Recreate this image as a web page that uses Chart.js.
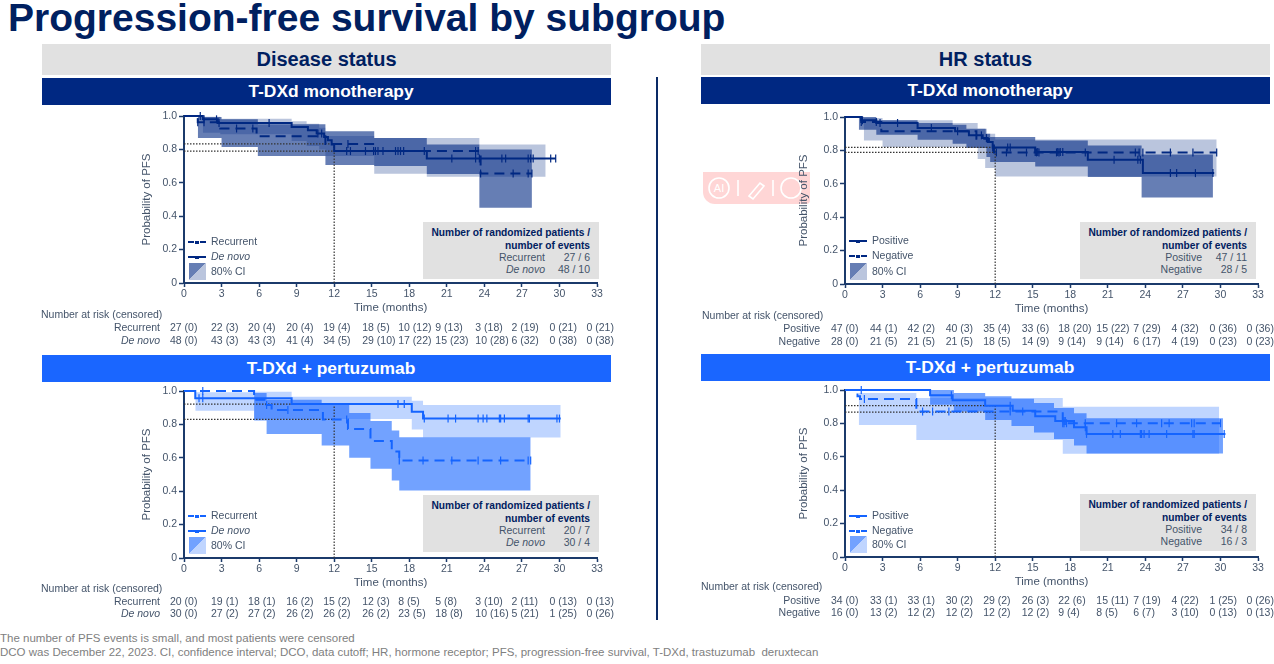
<!DOCTYPE html>
<html>
<head>
<meta charset="utf-8">
<title>Progression-free survival by subgroup</title>
<script src="https://cdn.jsdelivr.net/npm/chart.js@4"></script>
<style>
html, body { margin: 0; padding: 0; background: #fff; }
body { position: relative; width: 1274px; height: 664px; overflow: hidden; font-family: "Liberation Sans", Arial, sans-serif; }
h1 { position: absolute; left: 8px; top: -4px; margin: 0; font-size: 39px; line-height: 44px; font-weight: bold; color: #002060; white-space: nowrap; }
.head { position: absolute; width: 569px; text-align: center; font-weight: bold; }
.grey { height: 31px; line-height: 31px; font-size: 20px; background: #e1e1e1; color: #002060; }
.bar { height: 27px; line-height: 27px; font-size: 17.4px; color: #fff; text-indent: 9px; }
.navy { background: #002882; }
.blue { background: #1a66ff; }
.sep { position: absolute; left: 656px; top: 77px; width: 1.5px; height: 543px; background: #0a2a66; }
canvas { position: absolute; }
.stat { position: absolute; width: 176px; height: 57px; background: #e1e1e1; font-size: 10.5px; color: #44546a; }
.stat b { position: absolute; right: 9px; top: 5px; font-size: 10.2px; text-align: right; line-height: 12.5px; color: #002060; white-space: nowrap; }
.stat span { position: absolute; white-space: nowrap; }
.leg { position: absolute; font-size: 10.5px; color: #44546a; white-space: nowrap; line-height: 12px; }
.sample { position: absolute; width: 18px; height: 0; }
.mark { position: absolute; left: 7px; top: -2.5px; width: 4px; height: 3px; }
.swatch { position: absolute; width: 17px; height: 17px; }
.risk { position: absolute; font-size: 10.5px; line-height: 12px; color: #44546a; white-space: nowrap; }
.foot { position: absolute; left: 0; font-size: 11.5px; line-height: 13px; color: #808080; white-space: nowrap; }
.ai { position: absolute; left: 703px; top: 172px; width: 107px; height: 32px; background: #ffd6d6; border-radius: 0 0 4px 12px; }
</style>
</head>
<body>
<h1>Progression-free survival by subgroup</h1>

<div class="head grey" style="left:42px;top:44px">Disease status</div>
<div class="head bar navy" style="left:42px;top:78px">T-DXd monotherapy</div>
<div class="head bar blue" style="left:42px;top:355px">T-DXd + pertuzumab</div>
<div class="head grey" style="left:701px;top:44px">HR status</div>
<div class="head bar navy" style="left:701px;top:77px">T-DXd monotherapy</div>
<div class="head bar blue" style="left:701px;top:354px">T-DXd + pertuzumab</div>
<div class="sep"></div>

<div class="ai">
  <svg width="107" height="32" viewBox="0 0 107 32" fill="none" stroke="#fff" stroke-width="1.6">
    <circle cx="16" cy="16" r="10"/>
    <text x="16" y="20" text-anchor="middle" font-size="11" fill="#fff" stroke="none" font-family="Liberation Sans">AI</text>
    <line x1="35" y1="8" x2="35" y2="24"/>
    <path d="M46 24 L57 11 L61 14 L50 27 Z"/>
    <line x1="70" y1="8" x2="70" y2="24"/>
    <circle cx="88" cy="16" r="10"/>
  </svg>
</div>

<canvas id="chart-a" width="480" height="210" style="left:140px;top:105px"></canvas>
<canvas id="chart-b" width="480" height="210" style="left:140px;top:380px"></canvas>
<canvas id="chart-c" width="477" height="210" style="left:797px;top:106px"></canvas>
<canvas id="chart-d" width="477" height="210" style="left:797px;top:379px"></canvas>

<div class="foot" style="top:632px">The number of PFS events is small, and most patients were censored</div>
<div class="foot" style="top:646px">DCO was December 22, 2023. CI, confidence interval; DCO, data cutoff; HR, hormone receptor; PFS, progression-free survival, T-DXd, trastuzumab&nbsp; deruxtecan</div>

<script>
// axis ticks
const monthTicks = [0, 3, 6, 9, 12, 15, 18, 21, 24, 27, 30, 33];
const probTicks = [0, 0.2, 0.4, 0.6, 0.8, 1.0];

// Disease status, T-DXd monotherapy
const aDashTimes = [0, 1.1, 2.9, 5.8, 11.3, 15.2, 23.7, 27.8];
const aDashSurv = [1, 0.963, 0.925, 0.878, 0.833, 0.79, 0.655, 0.655];
const aDashCensor = [1.1, 1.6, 4.2, 5.5, 13.1, 23.3, 23.5, 23.7, 26.3, 27.5, 27.8];
const aDashBandTimes = [1.1, 3, 5.9, 11.3, 15.2, 19.4, 23.6, 27.8];
const aDashUpper = [0.994, 0.98, 0.95, 0.909, 0.869, 0.83, 0.8, 0.8];
const aDashLower = [0.869, 0.815, 0.76, 0.706, 0.7, 0.652, 0.451, 0.451];
const aSolidTimes = [0, 1.5, 2.7, 8.6, 9.9, 10.6, 11.2, 11.5, 11.8, 12, 19.4, 29.7];
const aSolidSurv = [1, 0.98, 0.958, 0.934, 0.915, 0.895, 0.875, 0.855, 0.83, 0.79, 0.745, 0.745];
const aSolidCensor = [1.3, 1.6, 2.6, 2.8, 6.8, 10.7, 11, 13, 13.3, 14.5, 15.15, 15.3, 15.5, 15.9, 16.9, 17.1, 17.3, 17.55, 19.2, 21.4, 23.3, 23.6, 25.4, 25.7, 27.5, 27.7, 27.9, 29.3, 29.7];
const aSolidBandTimes = [1.5, 2.9, 8.6, 9.8, 10.8, 11.3, 15.2, 19.4, 23.6, 28.9];
const aSolidUpper = [0.995, 0.984, 0.968, 0.954, 0.93, 0.88, 0.869, 0.869, 0.829, 0.829];
const aSolidLower = [0.9, 0.89, 0.85, 0.82, 0.8, 0.76, 0.654, 0.636, 0.636, 0.636];
const aRefs = [0.833, 0.79];
const aRiskDash = ['27 (0)', '22 (3)', '20 (4)', '20 (4)', '19 (4)', '18 (5)', '10 (12)', '9 (13)', '3 (18)', '2 (19)', '0 (21)', '0 (21)'];
const aRiskSolid = ['48 (0)', '43 (3)', '43 (3)', '41 (4)', '34 (5)', '29 (10)', '17 (22)', '15 (23)', '10 (28)', '6 (32)', '0 (38)', '0 (38)'];

// Disease status, T-DXd + pertuzumab
const bDashTimes = [0, 5.6, 6.6, 7, 11.1, 13.1, 14.9, 16.6, 17.2, 27.7];
const bDashSurv = [1, 0.948, 0.916, 0.886, 0.83, 0.773, 0.7, 0.637, 0.584, 0.584];
const bDashCensor = [1.5, 6.6, 8.3, 13, 17.2, 19.1, 21.4, 23.5, 25.3, 27.5, 27.7];
const bDashBandTimes = [5.6, 6.6, 11, 13.2, 14.9, 16.6, 17.2, 27.7];
const bDashUpper = [0.988, 0.948, 0.916, 0.868, 0.82, 0.763, 0.723, 0.723];
const bDashLower = [0.823, 0.743, 0.673, 0.6, 0.534, 0.464, 0.404, 0.404];
const bSolidTimes = [0, 0.9, 8.6, 18.2, 19.1, 30.1];
const bSolidSurv = [1, 0.956, 0.922, 0.876, 0.835, 0.835];
const bSolidCensor = [1.2, 1.5, 17.1, 17.6, 19.2, 21.1, 21.7, 23.5, 23.9, 24.2, 25.2, 25.3, 25.6, 27.5, 27.6, 29.8, 30];
const bSolidBandTimes = [0.9, 5.6, 8.6, 18.2, 19.1, 30.1];
const bSolidUpper = [0.992, 0.996, 0.966, 0.942, 0.916, 0.916];
const bSolidLower = [0.882, 0.833, 0.833, 0.769, 0.721, 0.721];
const bRefs = [0.922, 0.83];
const bRiskDash = ['20 (0)', '19 (1)', '18 (1)', '16 (2)', '15 (2)', '12 (3)', '8 (5)', '5 (8)', '3 (10)', '2 (11)', '0 (13)', '0 (13)'];
const bRiskSolid = ['30 (0)', '27 (2)', '27 (2)', '26 (2)', '26 (2)', '26 (2)', '23 (5)', '18 (8)', '10 (16)', '5 (21)', '1 (25)', '0 (26)'];

// HR status, T-DXd monotherapy
const cSolidTimes = [0, 1.3, 2.5, 5.8, 8.8, 9.9, 11, 11.4, 11.8, 15.2, 19.4, 23.8, 29.5];
const cSolidSurv = [1, 0.98, 0.964, 0.934, 0.914, 0.89, 0.874, 0.85, 0.818, 0.79, 0.744, 0.664, 0.664];
const cSolidCensor = [1.4, 2.8, 4.2, 6.9, 9, 10.9, 11.3, 11.8, 13, 13.2, 15.2, 15.4, 17, 17.2, 17.4, 21.5, 23.4, 23.6, 26, 26.5, 28, 29.4];
const cSolidBandTimes = [1.1, 2.5, 5.8, 8.6, 9.7, 11.3, 11.6, 15.2, 19.4, 23.7, 29.4];
const cSolidUpper = [1, 0.98, 0.964, 0.954, 0.93, 0.9, 0.88, 0.86, 0.83, 0.776, 0.776];
const cSolidLower = [0.924, 0.894, 0.864, 0.84, 0.814, 0.76, 0.73, 0.704, 0.64, 0.518, 0.518];
const cDashTimes = [0, 1.3, 2.9, 10.5, 11.5, 11.9, 29.7];
const cDashSurv = [1, 0.97, 0.914, 0.87, 0.83, 0.788, 0.788];
const cDashCensor = [1.3, 2.5, 12.1, 12.9, 14.5, 15.3, 15.5, 16.9, 17.1, 19.2, 23.2, 23.5, 23.8, 26, 27.8, 29.7];
const cDashBandTimes = [1.5, 3, 8.6, 10.6, 11.2, 12, 29.7];
const cDashUpper = [0.994, 0.98, 0.964, 0.93, 0.9, 0.866, 0.866];
const cDashLower = [0.86, 0.82, 0.82, 0.748, 0.694, 0.644, 0.644];
const cRefs = [0.818, 0.788];
const cRiskSolid = ['47 (0)', '44 (1)', '42 (2)', '40 (3)', '35 (4)', '33 (6)', '18 (20)', '15 (22)', '7 (29)', '4 (32)', '0 (36)', '0 (36)'];
const cRiskDash = ['28 (0)', '21 (5)', '21 (5)', '21 (5)', '18 (5)', '14 (9)', '9 (14)', '9 (14)', '6 (17)', '4 (19)', '0 (23)', '0 (23)'];

// HR status, T-DXd + pertuzumab
const dSolidTimes = [0, 6.8, 8.6, 11.2, 13.4, 15.2, 16.8, 18.3, 19.3, 30.4];
const dSolidSurv = [1, 0.968, 0.938, 0.906, 0.876, 0.843, 0.815, 0.777, 0.737, 0.737];
const dSolidCensor = [1.3, 8.5, 13.2, 17.5, 17.6, 19.2, 19.3, 21.4, 22, 23.6, 23.7, 23.9, 24.3, 25.7, 27.8, 27.9, 30.3];
const dSolidBandTimes = [6.8, 8.7, 11.2, 13.3, 15.1, 16.7, 18.3, 19.3, 30.2];
const dSolidUpper = [1, 0.982, 0.962, 0.948, 0.922, 0.892, 0.861, 0.831, 0.831];
const dSolidLower = [0.912, 0.871, 0.821, 0.785, 0.745, 0.707, 0.667, 0.62, 0.62];
const dDashTimes = [0, 1, 1.2, 5.7, 17.4, 30];
const dDashSurv = [1, 0.962, 0.946, 0.871, 0.801, 0.801];
const dDashCensor = [1.55, 6.2, 7, 8.3, 13.2, 14.2, 17.4, 17.5, 17.7, 19.2, 21.7, 23.3, 25.3, 25.9, 27.7, 27.9, 30];
const dDashBandTimes = [1.1, 5.7, 17.4, 29.9];
const dDashUpper = [0.982, 0.952, 0.9, 0.9];
const dDashLower = [0.791, 0.7, 0.618, 0.618];
const dRefs = [0.906, 0.867];
const dRiskSolid = ['34 (0)', '33 (1)', '33 (1)', '30 (2)', '29 (2)', '26 (3)', '22 (6)', '15 (11)', '7 (19)', '4 (22)', '1 (25)', '0 (26)'];
const dRiskDash = ['16 (0)', '13 (2)', '12 (2)', '12 (2)', '12 (2)', '12 (2)', '9 (4)', '8 (5)', '6 (7)', '3 (10)', '0 (13)', '0 (13)'];

const NAVY = '0, 40, 130';
const BLUE = '20, 100, 255';
const AXIS_COLOR = '#1b3a6b';
const LABEL_COLOR = '#44546a';
const PLOT_W = 413;

Chart.defaults.font.family = '"Liberation Sans", Arial, sans-serif';
Chart.defaults.animation = false;

function toPoints(xs, ys) {
    return xs.map((x, i) => ({ x: x, y: ys[i] }));
}

// value of a step curve at month t
function survAt(times, surv, t) {
    let v = surv[0];
    times.forEach((m, i) => { if (m <= t) v = surv[i]; });
    return v;
}

function band(times, values, fill, color) {
    return {
        data: toPoints(times, values),
        stepped: true,
        borderWidth: 0,
        pointRadius: 0,
        fill: fill,
        backgroundColor: color
    };
}

function curve(times, surv, color, dash) {
    return {
        data: toPoints(times, surv),
        stepped: true,
        borderColor: color,
        borderWidth: 2,
        borderDash: dash,
        pointRadius: 0,
        fill: false,
        clip: false
    };
}

function censors(times, surv, list, color) {
    return {
        data: list.map(t => ({ x: t, y: survAt(times, surv, t) })),
        showLine: false,
        pointStyle: 'line',
        rotation: 90,
        pointRadius: 4,
        pointBorderColor: color,
        pointBorderWidth: 1.2,
        clip: false
    };
}

function refLine(xs, ys) {
    return {
        data: toPoints(xs, ys),
        borderColor: '#333',
        borderWidth: 1.2,
        borderDash: [1.5, 1.5],
        pointRadius: 0,
        fill: false
    };
}

function buildChart(id, plotLeft, rgb, dark, light, refs) {
    const color = `rgb(${rgb})`;
    const canvas = document.getElementById(id);
    new Chart(canvas, {
        type: 'line',
        data: {
            datasets: [
                curve(dark.times, dark.surv, color, dark.dash),
                curve(light.times, light.surv, color, light.dash),
                censors(dark.times, dark.surv, dark.censor, color),
                censors(light.times, light.surv, light.censor, color),
                refLine([0, 12], [refs[0], refs[0]]),
                refLine([0, 12], [refs[1], refs[1]]),
                refLine([12, 12], [0, Math.max(refs[0], refs[1])]),
                band(dark.bandTimes, dark.upper, '+1', `rgba(${rgb}, 0.6)`),
                band(dark.bandTimes, dark.lower, false),
                band(light.bandTimes, light.upper, '+1', `rgba(${rgb}, 0.27)`),
                band(light.bandTimes, light.lower, false)
            ]
        },
        options: {
            responsive: false,
            layout: { padding: { top: 11, right: canvas.width - plotLeft - PLOT_W, left: 0, bottom: 0 } },
            plugins: { legend: { display: false }, tooltip: { enabled: false } },
            scales: {
                x: {
                    type: 'linear',
                    min: 0,
                    max: 33,
                    afterBuildTicks: (axis) => { axis.ticks = monthTicks.map(v => ({ value: v })); },
                    afterFit: (axis) => { axis.height = 32; },
                    grid: { drawOnChartArea: false, color: AXIS_COLOR, tickLength: 4, tickWidth: 1.5 },
                    border: { color: AXIS_COLOR, width: 2 },
                    ticks: { color: LABEL_COLOR, font: { size: 10.5 }, padding: 1, maxRotation: 0, autoSkip: false },
                    title: { display: true, text: 'Time (months)', color: LABEL_COLOR, font: { size: 11.5 }, padding: { top: 0, bottom: 0 } }
                },
                y: {
                    min: 0,
                    max: 1,
                    afterBuildTicks: (axis) => { axis.ticks = probTicks.map(v => ({ value: v })); },
                    afterFit: (axis) => { axis.width = plotLeft; },
                    grid: { drawOnChartArea: false, color: AXIS_COLOR, tickLength: 5, tickWidth: 1.5 },
                    border: { color: AXIS_COLOR, width: 2 },
                    ticks: {
                        color: LABEL_COLOR,
                        font: { size: 10.5 },
                        padding: 2,
                        callback: (v) => (v === 0 ? '0' : v.toFixed(1))
                    },
                    title: { display: true, text: 'Probability of PFS', color: LABEL_COLOR, font: { size: 11.5 }, padding: { top: 0, bottom: 2 } }
                }
            }
        }
    });
}

function addDiv(className, style, html) {
    const el = document.createElement('div');
    el.className = className;
    el.style.cssText = style;
    el.innerHTML = html;
    document.body.appendChild(el);
    return el;
}

function addLegend(left, rows, swatchTop, rgb) {
    const line = `rgb(${rgb})`;
    rows.forEach((row) => {
        const style = row.dash ? 'dashed' : 'solid';
        addDiv('sample', `left:${left}px;top:${row.y}px;border-top:2px ${style} ${line}`,
            `<div class="mark" style="background:${line}"></div>`);
        addDiv('leg', `left:${left + 23}px;top:${row.y - 6}px`, row.label);
    });
    addDiv('swatch', `left:${left + 1}px;top:${swatchTop}px;` +
        `background:linear-gradient(135deg, rgba(${rgb},0.6) 50%, rgba(${rgb},0.27) 50%)`, '');
    addDiv('leg', `left:${left + 23}px;top:${swatchTop + 2}px`, '80% CI');
}

function addStats(left, top, first, second) {
    addDiv('stat', `left:${left}px;top:${top}px`,
        '<b>Number of randomized patients /<br>number of events</b>' +
        `<span style="right:54px;top:29px">${first[0]}</span><span style="right:9px;top:29px">${first[1]}</span>` +
        `<span style="right:54px;top:41px">${second[0]}</span><span style="right:9px;top:41px">${second[1]}</span>`);
}

// column nudges for the number at risk rows, the columns do not sit exactly under the ticks
const riskShiftLeft = [0, 3.5, 3, 3.5, 3, 4.5, 3, 2.5, 5, 3.5, 4, 3.5];
const riskShiftRight = [0, 1.5, 1.5, 2, 2, 3, 2, 2.5, 2, 2.5, 3, 2.5];

function addRisk(plotX, headLeft, headTop, labelRight, shift, rows) {
    addDiv('risk', `left:${headLeft}px;top:${headTop}px`, 'Number at risk (censored)');
    rows.forEach((row) => {
        addDiv('risk', `left:${labelRight - 120}px;width:120px;text-align:right;top:${row.y}px`, row.label);
        row.values.forEach((v, i) => {
            const x = plotX + monthTicks[i] * PLOT_W / 33 - 14 + shift[i];
            addDiv('risk', `left:${x}px;top:${row.y}px`, v);
        });
    });
}

buildChart('chart-a', 44, NAVY,
    { times: aDashTimes, surv: aDashSurv, censor: aDashCensor, bandTimes: aDashBandTimes, upper: aDashUpper, lower: aDashLower, dash: [10, 6] },
    { times: aSolidTimes, surv: aSolidSurv, censor: aSolidCensor, bandTimes: aSolidBandTimes, upper: aSolidUpper, lower: aSolidLower },
    aRefs);
buildChart('chart-b', 44, BLUE,
    { times: bDashTimes, surv: bDashSurv, censor: bDashCensor, bandTimes: bDashBandTimes, upper: bDashUpper, lower: bDashLower, dash: [10, 6] },
    { times: bSolidTimes, surv: bSolidSurv, censor: bSolidCensor, bandTimes: bSolidBandTimes, upper: bSolidUpper, lower: bSolidLower },
    bRefs);
buildChart('chart-c', 48, NAVY,
    { times: cSolidTimes, surv: cSolidSurv, censor: cSolidCensor, bandTimes: cSolidBandTimes, upper: cSolidUpper, lower: cSolidLower },
    { times: cDashTimes, surv: cDashSurv, censor: cDashCensor, bandTimes: cDashBandTimes, upper: cDashUpper, lower: cDashLower, dash: [10, 6] },
    cRefs);
buildChart('chart-d', 48, BLUE,
    { times: dSolidTimes, surv: dSolidSurv, censor: dSolidCensor, bandTimes: dSolidBandTimes, upper: dSolidUpper, lower: dSolidLower },
    { times: dDashTimes, surv: dDashSurv, censor: dDashCensor, bandTimes: dDashBandTimes, upper: dDashUpper, lower: dDashLower, dash: [10, 6] },
    dRefs);

addLegend(188, [{ y: 241, label: 'Recurrent', dash: true }, { y: 256, label: '<i>De novo</i>' }], 263, NAVY);
addLegend(188, [{ y: 515, label: 'Recurrent', dash: true }, { y: 530, label: '<i>De novo</i>' }], 537, BLUE);
addLegend(849, [{ y: 240, label: 'Positive' }, { y: 255, label: 'Negative', dash: true }], 263, NAVY);
addLegend(849, [{ y: 515, label: 'Positive' }, { y: 530, label: 'Negative', dash: true }], 536, BLUE);

addStats(423, 222, ['Recurrent', '27 / 6'], ['<i>De novo</i>', '48 / 10']);
addStats(423, 495, ['Recurrent', '20 / 7'], ['<i>De novo</i>', '30 / 4']);
addStats(1080, 222, ['Positive', '47 / 11'], ['Negative', '28 / 5']);
addStats(1080, 494, ['Positive', '34 / 8'], ['Negative', '16 / 3']);

addRisk(184, 41, 308, 160, riskShiftLeft, [{ label: 'Recurrent', values: aRiskDash, y: 321 }, { label: '<i>De novo</i>', values: aRiskSolid, y: 334 }]);
addRisk(184, 41, 582, 160, riskShiftLeft, [{ label: 'Recurrent', values: bRiskDash, y: 595 }, { label: '<i>De novo</i>', values: bRiskSolid, y: 607 }]);
addRisk(845, 702, 309, 820, riskShiftRight, [{ label: 'Positive', values: cRiskSolid, y: 322 }, { label: 'Negative', values: cRiskDash, y: 335 }]);
addRisk(845, 701, 580, 820, riskShiftRight, [{ label: 'Positive', values: dRiskSolid, y: 594 }, { label: 'Negative', values: dRiskDash, y: 606 }]);
</script>
</body>
</html>
